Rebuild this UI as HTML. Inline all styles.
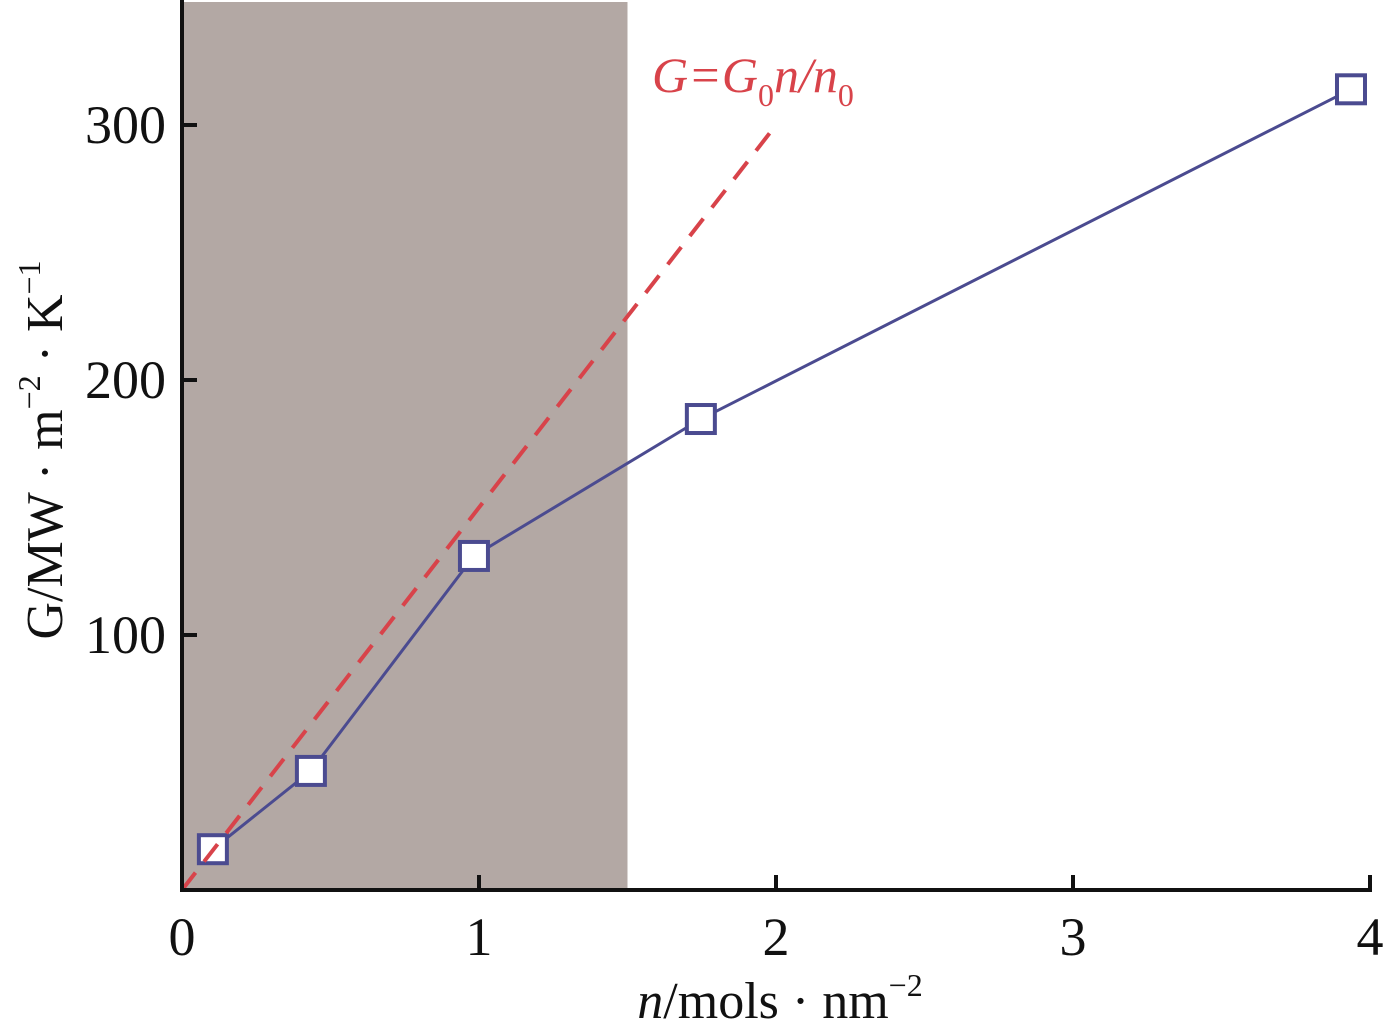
<!DOCTYPE html>
<html><head><meta charset="utf-8"><style>
html,body{margin:0;padding:0;background:#fff;}
svg{display:block;}
text{font-family:"Liberation Serif",serif;}
</style></head><body>
<svg id="chart" width="1385" height="1024" viewBox="0 0 1385 1024" xmlns="http://www.w3.org/2000/svg">
<g id="layer"></g>
</svg>
<script>
const xVals=[0.104,0.434,0.983,1.747,3.936];
const yVals=[16,46.7,131,184.7,314];
const xTicks=[0,1,2,3,4];
const yTicks=[100,200,300];
const shadeEnd=1.5;
const fitSlope=150;
const fitEndX=2;

const X0=182,XS=297,Y0=890,YS=2.55;
const sx=v=>X0+v*XS, sy=v=>Y0-v*YS;
const NS='http://www.w3.org/2000/svg';
const layer=document.getElementById('layer');
function mk(tag,attrs,parent){const e=document.createElementNS(NS,tag);for(const k in attrs)e.setAttribute(k,attrs[k]);(parent||layer).appendChild(e);return e;}

const shade=mk('rect',{x:sx(0),y:2,width:sx(shadeEnd)-sx(0),height:Y0-2,fill:'#b3a8a4'});



let pts=xVals.map((x,i)=>sx(x)+','+sy(yVals[i])).join(' ');
const line=mk('polyline',{points:pts,fill:'none',stroke:'#4b4b90','stroke-width':3});



xVals.forEach((x,i)=>{
  const r=mk('rect',{x:sx(x)-14,y:sy(yVals[i])-14,width:28,height:28,fill:'#fff',stroke:'#4b4b90','stroke-width':4});
  
  
});

const fit=mk('line',{x1:sx(0),y1:sy(0),x2:sx(fitEndX),y2:sy(fitSlope*fitEndX),stroke:'#d8434a','stroke-width':4,'stroke-dasharray':'22,14'});



const ax=mk('path',{d:`M${sx(0)},0 V${Y0} H1372`,fill:'none',stroke:'#111','stroke-width':4});



xTicks.forEach(t=>{
  const l=mk('line',{x1:sx(t),y1:Y0,x2:sx(t),y2:Y0-15,stroke:'#111','stroke-width':4});
  
  
  const tx=mk('text',{x:sx(t),y:955,'font-size':54,'text-anchor':'middle',fill:'#111'});
  tx.textContent=t;
  
  
});
yTicks.forEach(t=>{
  const l=mk('line',{x1:sx(0),y1:sy(t),x2:sx(0)+15,y2:sy(t),stroke:'#111','stroke-width':4});
  
  
  const tx=mk('text',{x:166,y:sy(t)+18,'font-size':54,'text-anchor':'end',fill:'#111'});
  tx.textContent=t;
  
  
});
</script>
<svg style="position:absolute;left:0;top:0" width="1385" height="1024" xmlns="http://www.w3.org/2000/svg">
<text x="780" y="1018" font-size="52" text-anchor="middle" fill="#111"><tspan font-style="italic">n</tspan>/mols · nm<tspan font-size="32" dy="-22">−2</tspan></text>
<text transform="translate(62,450) rotate(-90)" font-size="52" text-anchor="middle" fill="#111">G/MW · m<tspan font-size="32" dy="-22">−2</tspan><tspan dy="22"> · K</tspan><tspan font-size="32" dy="-22">−1</tspan></text>
<text x="652" y="92" font-size="50" fill="#d8434a" font-style="italic">G=G<tspan font-size="32" font-style="normal" dy="14">0</tspan><tspan dy="-14">n/n</tspan><tspan font-size="32" font-style="normal" dy="14">0</tspan></text>
</svg>
</body></html>
